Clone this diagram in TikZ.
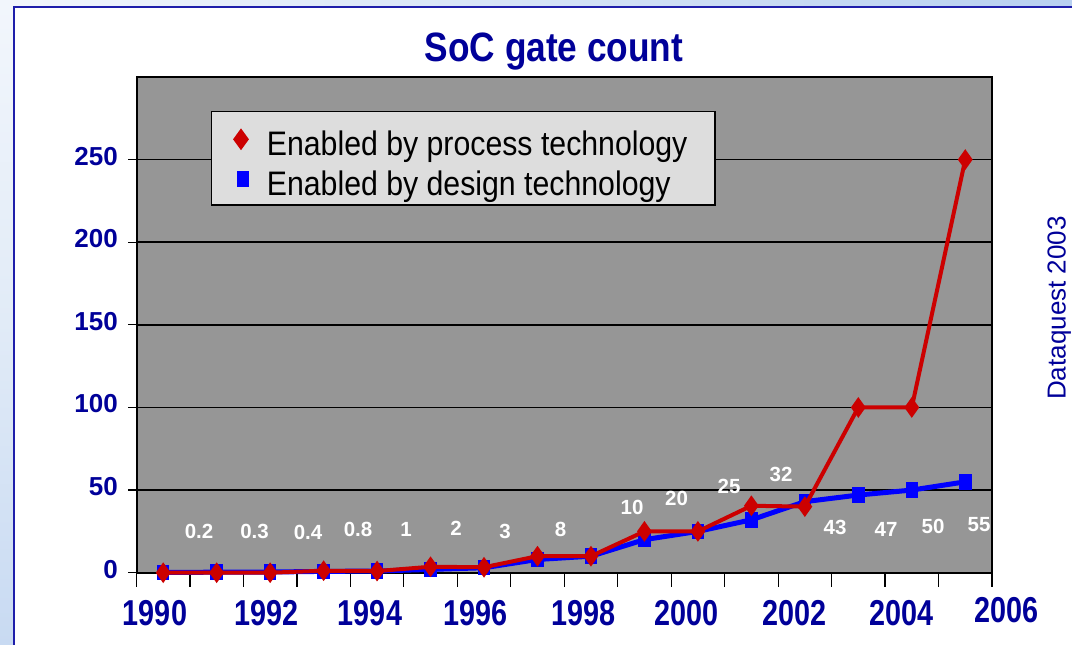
\documentclass[tikz,border=0pt]{standalone}
\usepackage{fontspec}
\setmainfont{Liberation Sans}
\newfontfamily\narrowsans[FakeStretch=0.89]{Liberation Sans}
\newfontfamily\titlesans[FakeStretch=0.86]{Liberation Sans}
\newfontfamily\yearsans[FakeStretch=0.80]{Liberation Sans}
\usetikzlibrary{shapes.geometric}

\definecolor{navy}{RGB}{0,0,153}
\definecolor{plotgray}{RGB}{150,150,150}
\definecolor{legendgray}{RGB}{221,221,221}
\definecolor{procred}{RGB}{204,0,0}
\definecolor{designblue}{RGB}{0,0,255}
\definecolor{frameblue}{RGB}{30,30,170}
\definecolor{slidelight}{RGB}{242,246,252}
\definecolor{slideblue}{RGB}{184,208,240}

\tikzset{
  gridline/.style={black, line width=1.5pt},
  tickmark/.style={black, line width=1.2pt},
  axislabel/.style={text=navy, inner sep=0, anchor=base east,
    font=\bfseries\fontsize{26}{30}\selectfont},
  yearlabel/.style={text=navy, inner sep=0, anchor=base,
    font=\yearsans\bfseries\fontsize{36}{40}\selectfont},
  valuelabel/.style={text=white, inner sep=0,
    font=\bfseries\fontsize{20.5}{24}\selectfont},
  procmark/.style={diamond, fill=procred, draw=none, inner sep=0,
    minimum width=15pt, minimum height=21pt},
  designmark/.style={rectangle, fill=designblue, draw=none, inner sep=0,
    minimum width=12.5pt, minimum height=15.5pt},
  procline/.style={procred, line width=4pt, line join=round},
  designline/.style={designblue, line width=5pt, line join=round},
  legendtext/.style={inner sep=0, anchor=base west, text=black,
    font=\narrowsans\fontsize{34}{38}\selectfont},
}

\begin{document}
\begin{tikzpicture}[x=1pt, y=-1pt]
\useasboundingbox (0,0) rectangle (1072,645);

% slide background and white panel
\fill[white] (0,0) rectangle (1072,645);
\shade[left color=slidelight, right color=slideblue] (0,0) rectangle (1072,7);
\shade[top color=slidelight, bottom color={rgb,255:red,200;green,218;blue,242}, middle color={rgb,255:red,225;green,235;blue,247}]
  (0,0) rectangle (14,645);
\draw[frameblue, line width=2pt] (14,645) -- (14,7) -- (1072,7);

% title
\node[text=navy, inner sep=0, anchor=base, font=\titlesans\bfseries\fontsize{41}{45}\selectfont]
  (title) at (554,61.7) {SoC gate count};

% plot area
\fill[plotgray] (136.5,77.3) rectangle (992,572.7);
\foreach \v in {50,100,...,250}
  \draw[gridline] (136.5,{572.7-1.6525*\v}) -- (992,{572.7-1.6525*\v});
\draw[black, line width=2pt] (136.5,77.3) rectangle (992,572.7);

% axis ticks
\foreach \v in {0,50,...,250}
  \draw[tickmark] (128,{572.7-1.6525*\v}) -- (136.5,{572.7-1.6525*\v});
\foreach \k in {0,...,16}
  \draw[tickmark] ({136.5+53.47*\k},572.7) -- ({136.5+53.47*\k},586.7);

% axis labels
\foreach \v in {0,50,...,250}
  \node[axislabel] (ylab\v) at (118,{578.2-1.6525*\v}) {\v};
\foreach \yr/\xx in {1990/155,1992/266.5,1994/370,1996/475.3,1998/583.7,2000/686.7,2002/794.7,2004/901.7}
  \node[yearlabel] (xlab\yr) at (\xx,625) {\yr};
\node[yearlabel] (xlab2006) at (1006.5,622) {2006};

% data points
\foreach \v [count=\i from 0] in {0.2,0.3,0.4,0.8,1,2,3,8,10,20,25,32,43,47,50,55}
  \coordinate (d\i) at ({163.2+53.47*\i},{572.7-1.6525*\v});
\foreach \v [count=\i from 0] in {0,0,0,1.2,1,3.6,3.3,10,10,25,25,40.5,40,100,100,250}
  \coordinate (p\i) at ({163.2+53.47*\i},{572.7-1.6525*\v});

% design technology series
\draw[designline] (d0) \foreach \i in {1,...,15} { -- (d\i) };
\foreach \i in {0,...,15}
  \node[designmark] (dm\i) at (d\i) {};

% process technology series
\draw[procline] (p0) \foreach \i in {1,...,15} { -- (p\i) };
\foreach \i in {0,...,15}
  \node[procmark] (pm\i) at (p\i) {};

% value labels
\foreach \t/\xx/\yy [count=\i] in {0.2/199/531,0.3/254.5/531,0.4/308/532,0.8/358/529,
    1/406/529,2/456/528,3/505/531,8/560.5/529,10/632/507,20/676.5/498,25/729/486,
    32/781/474,43/835/527,47/886/529,50/933/526,55/979/525}
  \node[valuelabel] (val\i) at (\xx,\yy) {\t};

% legend
\draw[fill=legendgray, draw=black, line width=1.5pt] (211.7,111.7) rectangle (715,205);
\node[procmark, minimum width=16pt, minimum height=22pt] (legproc) at (241,139.3) {};
\node[designmark, minimum width=12.7pt, minimum height=16.7pt] (legdesign) at (243,179) {};
\node[legendtext] (legtext1) at (266.7,155) {Enabled by process technology};
\node[legendtext] (legtext2) at (266.7,195) {Enabled by design technology};

% source note
\node[text=navy, inner sep=0, anchor=base, rotate=90, font=\fontsize{26}{30}\selectfont]
  (source) at (1065.5,308) {Dataquest 2003};
\end{tikzpicture}
\end{document}
